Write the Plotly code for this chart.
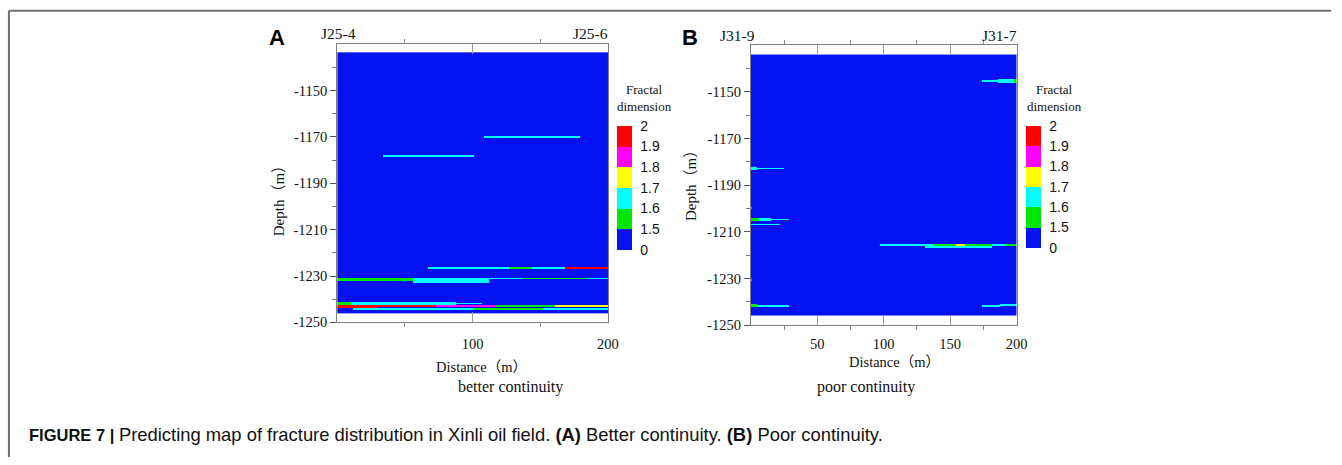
import numpy as np
import plotly.graph_objects as go

W, H = 1342, 465

# Fractal-dimension class edges and their colours (blue lowest, red highest)
fd_edges = [0, 1.5, 1.6, 1.7, 1.8, 1.9, 2]
fd_colors = ["#0512F0", "#00E600", "#00FFFF", "#FFFF00", "#FF00FF", "#FF0000"]
background_fd = 0.0

# Depth ticks shared by both sections
depth_ticks = [-1150, -1170, -1190, -1210, -1230, -1250]
depth_minor = [-1140, -1160, -1180, -1200, -1220, -1240]

# Section A (J25-4 -> J25-6): fracture streaks
# (depth top m, depth bottom m, distance start m, distance end m, fractal dimension)
streaks_a = [
    (-1169.8, -1170.6, 108, 179, 1.65),
    (-1178.0, -1178.6, 34, 101, 1.65),
    (-1225.9, -1226.7, 67, 97, 1.62),
    (-1225.9, -1226.7, 97, 127, 1.65),
    (-1225.9, -1226.7, 127, 144, 1.55),
    (-1225.9, -1226.7, 144, 168, 1.65),
    (-1225.9, -1226.7, 168, 200, 1.95),
    (-1230.8, -1232.2, 0, 56, 1.55),
    (-1230.6, -1232.8, 56, 112, 1.65),
    (-1230.8, -1231.3, 112, 137, 1.65),
    (-1230.8, -1231.3, 137, 185, 1.55),
    (-1230.8, -1231.3, 185, 200, 1.65),
    (-1241.2, -1242.1, 0, 10, 1.55),
    (-1241.2, -1242.1, 10, 88, 1.65),
    (-1241.4, -1241.9, 88, 107, 1.62),
    (-1242.4, -1243.8, 0, 30, 1.95),
    (-1242.4, -1243.2, 30, 73, 1.95),
    (-1242.4, -1243.2, 73, 117, 1.85),
    (-1242.4, -1243.2, 117, 161, 1.55),
    (-1242.4, -1243.2, 161, 200, 1.75),
    (-1243.8, -1244.6, 12, 100, 1.65),
    (-1243.8, -1244.6, 100, 152, 1.55),
    (-1243.8, -1244.6, 152, 200, 1.65),
]
depth_top_a, depth_bottom_a = -1133.5, -1245.8

# Section B (J31-9 -> J31-7): fracture streaks
streaks_b = [
    (-1145.0, -1145.8, 174, 186, 1.65),
    (-1144.6, -1146.0, 186, 198, 1.65),
    (-1144.6, -1146.0, 198, 200, 1.55),
    (-1182.3, -1183.5, 0, 5, 1.65),
    (-1182.6, -1183.2, 5, 25, 1.65),
    (-1199.5, -1200.3, 0, 1, 1.55),
    (-1204.1, -1205.5, 0, 6, 1.55),
    (-1204.1, -1205.5, 6, 15, 1.65),
    (-1204.4, -1205.2, 15, 29, 1.65),
    (-1206.6, -1207.2, 0, 22, 1.65),
    (-1215.5, -1216.3, 97, 131, 1.65),
    (-1215.4, -1216.3, 131, 137, 1.65),
    (-1215.4, -1216.3, 137, 154, 1.55),
    (-1215.4, -1216.3, 154, 161, 1.75),
    (-1215.4, -1216.3, 161, 181, 1.55),
    (-1215.4, -1216.3, 181, 192, 1.65),
    (-1215.4, -1216.3, 192, 200, 1.55),
    (-1216.3, -1217.0, 131, 181, 1.65),
    (-1230.2, -1231.0, 0, 1, 1.55),
    (-1241.3, -1242.5, 0, 5, 1.55),
    (-1241.4, -1242.4, 5, 29, 1.65),
    (-1241.6, -1242.3, 174, 187, 1.65),
    (-1241.1, -1241.9, 187, 200, 1.65),
]
depth_top_b, depth_bottom_b = -1134.0, -1246.0

section_length = 200
DX, DZ = 1.0, 0.2


def fd_class(fd):
    return int(np.clip(np.searchsorted(fd_edges, fd, side="right") - 1, 0, len(fd_colors) - 1))


def build_grid(top, bottom, streaks):
    xs = np.arange(DX / 2, section_length, DX)
    ys = np.arange(top - DZ / 2, bottom, -DZ)
    z = np.full((len(ys), len(xs)), fd_class(background_fd) + 0.5)
    for d_top, d_bot, x0, x1, fd in streaks:
        rows = (ys <= d_top) & (ys >= d_bot)
        cols = (xs >= x0) & (xs <= x1)
        z[np.ix_(rows, cols)] = fd_class(fd) + 0.5
    return xs, ys, z


n_cls = len(fd_colors)
colorscale = []
for i, c in enumerate(fd_colors):
    colorscale.append([i / n_cls, c])
    colorscale.append([(i + 1) / n_cls, c])

SERIF = "Liberation Serif, Times New Roman, Noto Sans CJK SC, serif"
SANS = "Liberation Sans, Arial, sans-serif"


def px_x(x):
    return x / W


def px_y(y):
    return 1 - y / H


def colorbar(left_px, top_px, length_px):
    return dict(
        x=px_x(left_px), xanchor="left", xpad=0,
        y=px_y(top_px), yanchor="top", ypad=0,
        len=length_px, lenmode="pixels", thickness=15,
        outlinewidth=0,
        tickmode="array",
        tickvals=list(range(n_cls + 1)),
        ticktext=[f"{e:g}" for e in fd_edges],
        ticks="outside", ticklen=6, tickcolor="rgba(0,0,0,0)",
        tickfont=dict(family=SANS, size=14, color="#111"),
    )


fig = go.Figure()

xa, ya, za = build_grid(depth_top_a, depth_bottom_a, streaks_a)
fig.add_trace(go.Heatmap(
    x=xa, y=ya, z=za, zmin=0, zmax=n_cls, colorscale=colorscale,
    zsmooth=False, hoverinfo="skip", xaxis="x", yaxis="y",
    colorbar=colorbar(622, 128, 124),
))

xb, yb, zb = build_grid(depth_top_b, depth_bottom_b, streaks_b)
fig.add_trace(go.Heatmap(
    x=xb, y=yb, z=zb, zmin=0, zmax=n_cls, colorscale=colorscale,
    zsmooth=False, hoverinfo="skip", xaxis="x2", yaxis="y2",
    colorbar=colorbar(1034, 128, 122),
))

axis_line = "#808080"


def x_axis(dom, tickvals, minor_vals, anchor, standoff):
    return dict(
        domain=dom, anchor=anchor, range=[0, section_length],
        tickmode="array", tickvals=tickvals,
        ticks="inside", ticklen=10, tickcolor="#9a9a9a", tickwidth=1,
        minor=dict(tickmode="array", tickvals=minor_vals, ticks="outside",
                   ticklen=4, tickcolor="#888"),
        showline=True, linecolor=axis_line, linewidth=1, mirror="ticks",
        showgrid=False, zeroline=False, fixedrange=True,
        tickfont=dict(family=SERIF, size=14.5, color="#111"),
        ticklabelstandoff=standoff,
    )


def y_axis(dom, anchor):
    return dict(
        domain=dom, anchor=anchor, range=[-1250, -1130],
        tickmode="array", tickvals=depth_ticks,
        ticktext=[str(v) for v in depth_ticks],
        ticks="outside", ticklen=6, tickcolor="#555", tickwidth=1,
        minor=dict(tickmode="array", tickvals=depth_minor,
                   ticks="outside", ticklen=4, tickcolor="#777"),
        showline=True, linecolor=axis_line, linewidth=1, mirror=True,
        showgrid=False, zeroline=False, fixedrange=True,
        tickfont=dict(family=SERIF, size=14.5, color="#111"),
    )


fig.update_layout(
    width=W, height=H,
    margin=dict(l=0, r=0, t=0, b=0),
    paper_bgcolor="white", plot_bgcolor="white",
    showlegend=False,
    xaxis=x_axis([px_x(340), px_x(613)], [100, 200], [50, 150], "y", 8),
    yaxis=y_axis([px_y(328), px_y(45)], "x"),
    xaxis2=x_axis([px_x(757), px_x(1025)], [50, 100, 150, 200], [25, 75, 125, 175], "y2", 5),
    yaxis2=y_axis([px_y(331), px_y(46)], "x2"),
)


def ann(text, x, y, size, family=SERIF, bold=False, xanchor="center", angle=0, color="#111"):
    if bold:
        text = f"<b>{text}</b>"
    fig.add_annotation(
        text=text, x=px_x(x), y=px_y(y), xref="paper", yref="paper",
        xanchor=xanchor, yanchor="middle", showarrow=False, textangle=angle,
        font=dict(family=family, size=size, color=color),
    )


# Panel letters and well names
ann("A", 279, 38, 22, SANS, bold=True, color="#000")
ann("B", 696, 38, 22, SANS, bold=True, color="#000")
ann("J25-4", 341, 34, 15.5)
ann("J25-6", 595, 34, 15.5)
ann("J31-9", 744, 36, 15.5)
ann("J31-7", 1008, 36, 15.5)

# Axis titles
ann("Depth（m）", 281, 201, 15, angle=-90)
ann("Depth（m）", 697, 185, 15, angle=-90)
ann("Distance（m）", 485, 373, 14.5)
ann("Distance（m）", 902, 368, 14.5)
ann("better continuity", 515, 394, 16)
ann("poor continuity", 873, 394, 16)

# Colour bar titles
ann("Fractal<br>dimension", 650, 100, 13)
ann("Fractal<br>dimension", 1063, 100, 13)

# Figure caption
ann("<b>FIGURE 7 |</b> <span style='font-size:18.4px'>Predicting map of fracture distribution "
    "in Xinli oil field. <b>(A)</b> Better continuity. <b>(B)</b> Poor continuity.</span>",
    27, 442, 16.5, SANS, xanchor="left", color="#111")

# Frame lines along the top and left of the figure
fig.add_shape(type="line", xref="paper", yref="paper",
              x0=px_x(9), x1=1, y0=px_y(11), y1=px_y(11),
              line=dict(color="#707070", width=2))
fig.add_shape(type="line", xref="paper", yref="paper",
              x0=px_x(9), x1=px_x(9), y0=px_y(11), y1=0,
              line=dict(color="#707070", width=2))

fig.write_html("out.html")
